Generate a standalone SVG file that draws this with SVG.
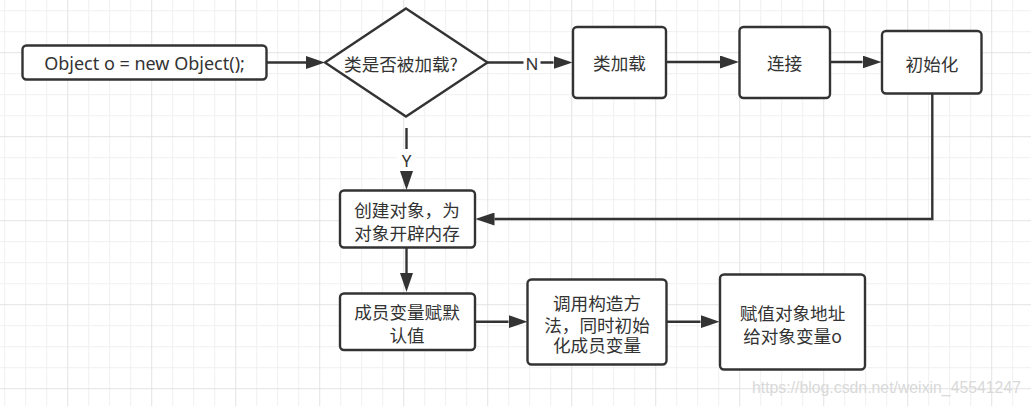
<svg xmlns="http://www.w3.org/2000/svg" width="1031" height="406" viewBox="0 0 1031 406">
<defs>
<pattern id="grid" patternUnits="userSpaceOnUse" x="-16.8" y="-31.8" width="84" height="84">
<rect x="0" y="0" width="84" height="84" fill="#ffffff"/>
<g fill="#f0f0f0">
<rect x="21" y="0" width="1" height="84"/>
<rect x="42" y="0" width="1" height="84"/>
<rect x="63" y="0" width="1" height="84"/>
<rect x="0" y="21" width="84" height="1"/>
<rect x="0" y="42" width="84" height="1"/>
<rect x="0" y="63" width="84" height="1"/>
</g>
<g fill="#e3e3e3">
<rect x="0" y="0" width="1" height="84"/>
<rect x="0" y="0" width="84" height="1"/>
</g>
</pattern>
<marker id="arr" markerUnits="userSpaceOnUse" markerWidth="19" markerHeight="13" refX="0" refY="6.5" orient="auto">
<path d="M0,0 L19,6.5 L0,13 z" fill="#333333"/>
</marker>
</defs>
<style>
.box{fill:#ffffff;stroke:#333333;stroke-width:2.4}
.t{font-family:"Noto Sans","Noto Sans CJK SC",sans-serif;font-size:18px;fill:#333333;text-anchor:middle;dominant-baseline:central}
.c{font-family:"Noto Sans CJK SC",sans-serif;font-size:17.6px;fill:#333333;text-anchor:middle;dominant-baseline:central}
.edge{fill:none;stroke:#333333;stroke-width:2.4;marker-end:url(#arr)}
.lbl{font-family:"Noto Sans","Open Sans",sans-serif;font-size:17px;fill:#333333;text-anchor:middle;dominant-baseline:central}
</style>
<rect x="0" y="0" width="1031" height="406" fill="url(#grid)"/>

<g id="connectors">
<path class="edge" d="M267,62.5 L306,62.5"/>
<path class="edge" d="M487,62.5 L553.5,62.5"/>
<path class="edge" d="M666,62 L720,62"/>
<path class="edge" d="M830,62 L862.5,62"/>
<path class="edge" d="M932.3,93.5 L932.3,219 L494.5,219"/>
<path class="edge" d="M406.5,128 L406.5,171"/>
<path class="edge" d="M406.5,248 L406.5,273"/>
<path class="edge" d="M475,321.7 L508.5,321.7"/>
<path class="edge" d="M667,321.7 L700.5,321.7"/>
<rect x="523.5" y="53" width="17" height="20" fill="#ffffff"/>
<text class="lbl" x="532" y="63.5">N</text>
<rect x="397" y="149" width="19" height="22" fill="#ffffff"/>
<text class="lbl" x="406.5" y="160.5">Y</text>
</g>

<g id="start">
<rect class="box" x="22.5" y="45.5" width="244" height="34" rx="4"/>
<text class="t" x="144.5" y="62.5" font-size="18.5">Object o = new Object();</text>
</g>
<g id="decision">
<polygon class="box" points="406,8.5 487.5,62.5 406,116.5 325,62.5"/>
<text class="c" x="401" y="63">类是否被加载?</text>
</g>
<g id="load">
<rect class="box" x="573" y="27" width="93" height="71" rx="4"/>
<text class="c" x="619.5" y="62.5">类加载</text>
</g>
<g id="link">
<rect class="box" x="739.5" y="27" width="90.5" height="71" rx="4"/>
<text class="c" x="784.5" y="62.5">连接</text>
</g>
<g id="init">
<rect class="box" x="882" y="31" width="99.5" height="62.5" rx="4"/>
<text class="c" x="932" y="63">初始化</text>
</g>
<g id="create">
<rect class="box" x="340" y="190.5" width="135" height="57" rx="4"/>
<text class="c" x="407" y="209.5">创建对象，为<tspan x="407" dy="22">对象开辟内存</tspan></text>
</g>
<g id="default">
<rect class="box" x="340" y="293.5" width="135" height="56.5" rx="4"/>
<text class="c" x="407" y="311.5">成员变量赋默<tspan x="407" dy="22">认值</tspan></text>
</g>
<g id="ctor">
<rect class="box" x="527.5" y="279.5" width="139" height="85" rx="4"/>
<text class="c" x="597" y="302.5">调用构造方<tspan x="597" dy="21">法，同时初始</tspan><tspan x="597" dy="20.5">化成员变量</tspan></text>
</g>
<g id="assign">
<rect class="box" x="720" y="274.5" width="145" height="95" rx="4"/>
<text class="c" x="792.5" y="312.5">赋值对象地址<tspan x="792.5" dy="22.5">给对象变量o</tspan></text>
</g>
<text x="752" y="387" font-family="Liberation Sans, sans-serif" font-size="16" fill="#d9d9d9" textLength="269" lengthAdjust="spacingAndGlyphs" dominant-baseline="central">https://blog.csdn.net/weixin_45541247</text>
</svg>
